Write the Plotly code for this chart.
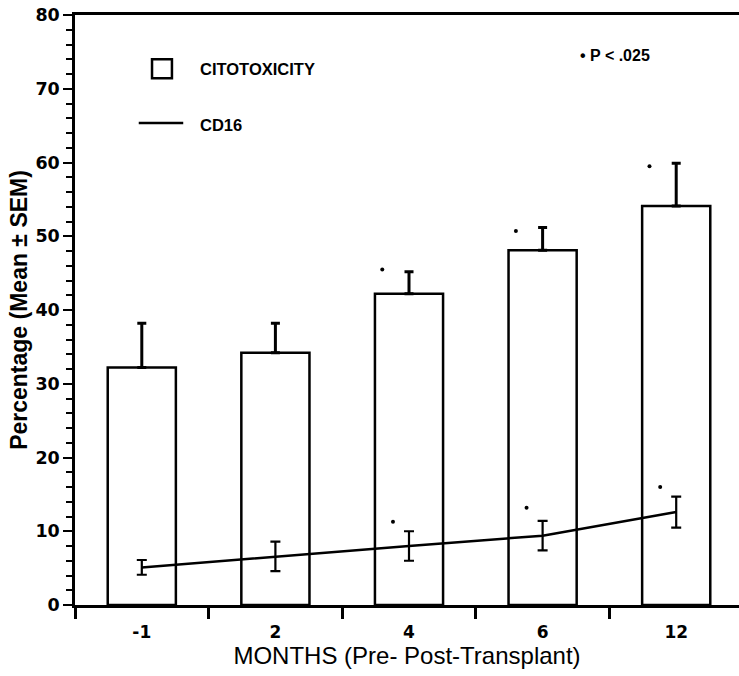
import plotly.graph_objects as go

# ---- data ----
months = ["-1", "2", "4", "6", "12"]
cito_mean = [32.2, 34.2, 42.2, 48.1, 54.1]
cito_sem = [6, 4, 3.0, 3.1, 5.8]
cd16_mean = [5.1, 6.6, 8.0, 9.4, 12.6]
cd16_sem = [1.0, 2.0, 2.0, 2.0, 2.1]
# significance markers (P < .025)
sig_bar_y = [None, None, 45.5, 50.7, 59.5]
sig_line_y = [None, None, 11.3, 13.2, 16.0]

xpos = list(range(len(months)))
TICKF = "DejaVu Sans, Liberation Sans, sans-serif"
HELV = "Liberation Sans, Arial, Helvetica, sans-serif"

fig = go.Figure()
fig.add_trace(go.Bar(
    x=xpos, y=cito_mean, width=0.51,
    marker=dict(color="white", line=dict(color="black", width=2.5)),
    error_y=dict(type="data", symmetric=False, array=cito_sem,
                 arrayminus=[0] * len(cito_sem), color="black",
                 thickness=3, width=4.5),
    showlegend=False,
))
fig.add_trace(go.Scatter(
    x=xpos, y=cd16_mean, mode="lines",
    line=dict(color="black", width=2.5),
    error_y=dict(type="data", array=cd16_sem, color="black",
                 thickness=2.2, width=5),
    showlegend=False,
))
fig.add_trace(go.Scatter(
    x=[x - 0.2 for x in xpos], y=sig_bar_y, mode="markers",
    marker=dict(color="black", size=4), showlegend=False,
))
fig.add_trace(go.Scatter(
    x=[x - 0.12 for x in xpos], y=sig_line_y, mode="markers",
    marker=dict(color="black", size=4), showlegend=False,
))

# legend drawn as shapes/annotations (paper coords)
fig.add_shape(type="rect", xref="paper", yref="paper",
              x0=0.116, x1=0.146, y0=0.893, y1=0.925,
              line=dict(color="black", width=2.5), fillcolor="white")
fig.add_shape(type="line", xref="paper", yref="paper",
              x0=0.096, x1=0.163, y0=0.817, y1=0.817,
              line=dict(color="black", width=2.5))
fig.add_annotation(xref="paper", yref="paper", x=0.185, y=0.909,
                   text="CITOTOXICITY", showarrow=False, xanchor="left",
                   yanchor="middle",
                   font=dict(family=HELV, size=16.5, color="black", weight="bold"))
fig.add_annotation(xref="paper", yref="paper", x=0.185, y=0.814,
                   text="CD16", showarrow=False, xanchor="left",
                   yanchor="middle",
                   font=dict(family=HELV, size=16.5, color="black", weight="bold"))
fig.add_annotation(xref="paper", yref="paper", x=0.757, y=0.932,
                   text="• P < .025", showarrow=False, xanchor="left",
                   yanchor="middle",
                   font=dict(family=HELV, size=16, color="black", weight="bold"))

fig.update_layout(
    width=739, height=676,
    margin=dict(l=75, r=0, t=15, b=71),
    plot_bgcolor="white", paper_bgcolor="white",
    font=dict(family=HELV, color="black"),
    xaxis=dict(
        range=[-0.5, 4.47], tickvals=xpos, ticktext=months, ticks="",
        automargin=False, ticklabelstandoff=10,
        showline=True, linecolor="black", linewidth=2.5, mirror=True,
        showgrid=False, zeroline=False,
        tickfont=dict(family=TICKF, size=17, color="black", weight="bold"),
        title=dict(text="MONTHS (Pre- Post-Transplant)", standoff=3,
                   font=dict(family=HELV, size=24, color="black")),
        minor=dict(tickvals=[-0.5, 0.5, 1.5, 2.5, 3.5], ticks="outside",
                   ticklen=11, tickwidth=2.5, tickcolor="black", showgrid=False),
    ),
    yaxis=dict(
        range=[0, 80], dtick=10, ticks="outside", ticklen=9, tickwidth=2,
        tickcolor="black", showline=True, linecolor="black", linewidth=2.5,
        showgrid=False, zeroline=False, automargin=False,
        tickfont=dict(family=TICKF, size=17.5, color="black", weight="bold"),
        title=dict(text="Percentage (Mean ± SEM)", standoff=2,
                   font=dict(family=HELV, size=23, color="black", weight="bold")),
        minor=dict(dtick=2, ticks="outside", ticklen=6, tickwidth=1.8,
                   tickcolor="black", showgrid=False),
    ),
)

fig.write_html("out.html", config={"displayModeBar": False},
               post_script="document.body.style.margin='0px';")
